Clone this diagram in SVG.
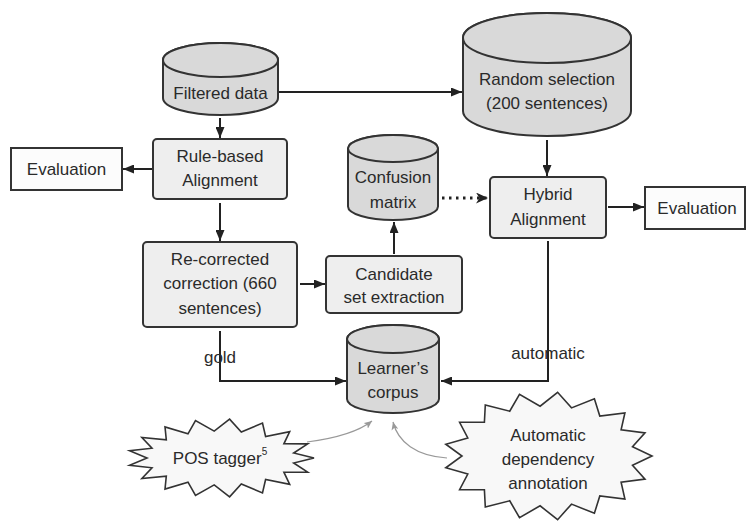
<svg xmlns="http://www.w3.org/2000/svg" width="747" height="522" viewBox="0 0 747 522">
<style>
text{font-family:"Liberation Sans",Arial,sans-serif;font-size:17px;fill:#2a2a2a;text-anchor:middle;dominant-baseline:central}
.box{fill:#eeeeee;stroke:#333;stroke-width:2}
.ev{fill:#fcfcfc;stroke:#333;stroke-width:2}
.cyl{fill:#d9d9d9;stroke:#333;stroke-width:2}
.star{fill:#f8f8f8;stroke:#333;stroke-width:1.6;stroke-linejoin:miter}
.ln{fill:none;stroke:#222;stroke-width:2}
.dot{fill:none;stroke:#222;stroke-width:2.8;stroke-dasharray:2.5 4.5}
.gr{fill:none;stroke:#999;stroke-width:1.2}
</style>
<defs>
<marker id="ah" markerWidth="11" markerHeight="9" refX="11" refY="4.5" orient="auto" markerUnits="userSpaceOnUse"><path d="M0,0 L11,4.5 L0,9 Z" fill="#222"/></marker>
<marker id="st" markerWidth="13" markerHeight="11" refX="12" refY="5.5" orient="auto" markerUnits="userSpaceOnUse"><path d="M0,0 L12,5.5 L0,11 L3.5,5.5 Z" fill="#222"/></marker>
<marker id="ga" markerWidth="8" markerHeight="7" refX="8" refY="3.5" orient="auto" markerUnits="userSpaceOnUse"><path d="M0,0 L8,3.5 L0,7 L2,3.5 Z" fill="#999"/></marker>
</defs>
<g id="connectors">
<path class="ln" d="M278,92 H462" marker-end="url(#ah)"/>
<path class="ln" d="M220,118 V138" marker-end="url(#ah)"/>
<path class="ln" d="M152,169 H123" marker-end="url(#ah)"/>
<path class="ln" d="M220,203 V241" marker-end="url(#ah)"/>
<path class="ln" d="M300,284 H325" marker-end="url(#ah)"/>
<path class="ln" d="M394,254 V222" marker-end="url(#ah)"/>
<path class="dot" d="M442,198 H488" marker-end="url(#st)"/>
<path class="ln" d="M547,140 V176" marker-end="url(#ah)"/>
<path class="ln" d="M608,207 H644" marker-end="url(#ah)"/>
<path class="ln" d="M548,241 V381 H441" marker-end="url(#ah)"/>
<path class="ln" d="M220,331 V381 H346" marker-end="url(#ah)"/>
<path class="gr" d="M307,442 C338,438 358,432 372,421" marker-end="url(#ga)"/>
<path class="gr" d="M447,458 C416,456 398,442 393,422" marker-end="url(#ga)"/>
<text x="220" y="357">gold</text>
<text x="548" y="353">automatic</text>
</g>
<g id="filtered-data">
<path class="cyl" d="M163,60 V98 A57.5,17 0 0 0 278,98 V60 A57.5,17 0 0 0 163,60 Z"/>
<ellipse class="cyl" cx="220.5" cy="60" rx="57.5" ry="17"/>
<text x="220.5" y="93">Filtered data</text>
</g>
<g id="random-selection">
<path class="cyl" d="M463,38 V111 A84,25 0 0 0 631,111 V38 A84,25 0 0 0 463,38 Z"/>
<ellipse class="cyl" cx="547" cy="38" rx="84" ry="25"/>
<text x="547" y="79">Random selection</text>
<text x="547" y="103">(200 sentences)</text>
</g>
<g id="rule-based">
<rect class="box" x="153" y="139" width="134" height="60" rx="4"/>
<text x="220" y="156">Rule-based</text>
<text x="220" y="180">Alignment</text>
</g>
<g id="evaluation-left">
<rect class="ev" x="11" y="148" width="111" height="42"/>
<text x="66.5" y="169">Evaluation</text>
</g>
<g id="re-corrected">
<rect class="box" x="143" y="242" width="154" height="85" rx="4"/>
<text x="220" y="259">Re-corrected</text>
<text x="220" y="283">correction (660</text>
<text x="220" y="308">sentences)</text>
</g>
<g id="candidate">
<rect class="box" x="326" y="256" width="136" height="57" rx="4"/>
<text x="394" y="274">Candidate</text>
<text x="394" y="297">set extraction</text>
</g>
<g id="confusion-matrix">
<path class="cyl" d="M348,148.5 V206.5 A45,13.5 0 0 0 438,206.5 V148.5 A45,13.5 0 0 0 348,148.5 Z"/>
<ellipse class="cyl" cx="393" cy="148.5" rx="45" ry="13.5"/>
<text x="393" y="177">Confusion</text>
<text x="393" y="202">matrix</text>
</g>
<g id="hybrid">
<rect class="box" x="490" y="177" width="116" height="61" rx="4"/>
<text x="548" y="194">Hybrid</text>
<text x="548" y="219">Alignment</text>
</g>
<g id="evaluation-right">
<rect class="ev" x="645" y="187" width="100" height="42"/>
<text x="697" y="208">Evaluation</text>
</g>
<g id="learners-corpus">
<path class="cyl" d="M347,339 V399 A46,14 0 0 0 439,399 V339 A46,14 0 0 0 347,339 Z"/>
<ellipse class="cyl" cx="393" cy="339" rx="46" ry="14"/>
<text x="393" y="368">Learner’s</text>
<text x="393" y="392">corpus</text>
</g>
<g id="pos-tagger">
<polygon class="star" points="314,458 293.7,463 307.7,472.1 283.9,472.2 289.7,484.3 265.6,479.5 262.5,492.9 241.3,484 229.6,496.8 214.2,484.9 195.5,495.5 188,482.2 165,489.1 166.3,476.2 141.9,478.5 152,467.8 129.6,465.2 147,458 129.6,450.8 152,448.2 141.9,437.5 166.3,439.8 165,426.9 188,433.8 195.5,420.5 214.2,431.1 229.6,419.2 241.3,432 262.5,423.1 265.6,436.5 289.7,431.7 283.9,443.8 307.7,443.9 293.7,453"/>
<text x="220" y="458">POS tagger<tspan font-size="10" dy="-7">5</tspan></text>
</g>
<g id="dependency">
<polygon class="star" points="652,456 632.5,465.2 645,479.1 621.1,482.3 624.9,499.1 599.8,495.9 594.4,513.3 571.5,504.1 557.6,519.7 540.1,505.8 519.5,517.6 509.7,500.8 485.3,507.1 484.4,489.7 459.6,489.7 467.8,474.1 445.8,467.8 462,456 445.8,444.2 467.8,437.9 459.6,422.3 484.4,422.3 485.3,404.9 509.7,411.2 519.5,394.4 540.1,406.2 557.6,392.3 571.5,407.9 594.4,398.7 599.8,416.1 624.9,412.9 621.1,429.7 645,432.9 632.5,446.8"/>
<text x="548" y="435">Automatic</text>
<text x="548" y="459">dependency</text>
<text x="548" y="483">annotation</text>
</g>
</svg>
